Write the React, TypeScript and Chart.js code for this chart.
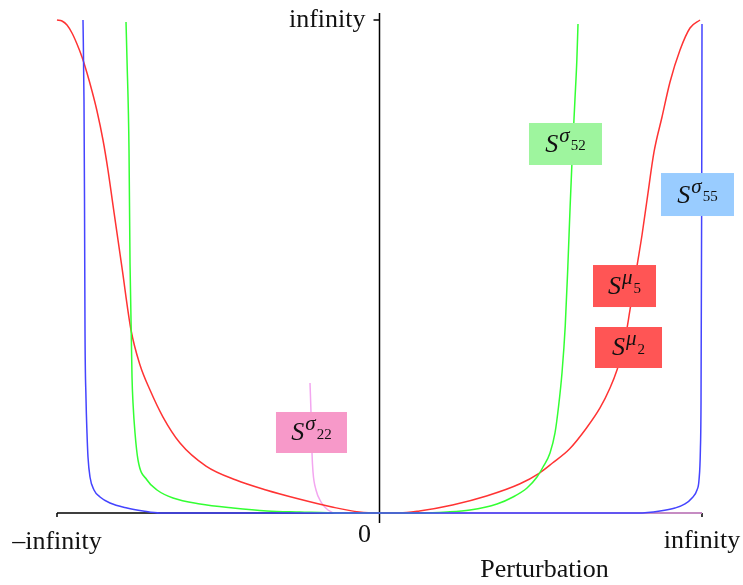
import React, { useEffect, useRef } from "react";
import { Chart, registerables } from "chart.js";

Chart.register(...registerables);

// Axis texts
const xTickLabels = ["–infinity", "0", "infinity"];
const yTickLabel = "infinity";
const xAxisTitle = "Perturbation";

// Perturbation (scaled −100 … 100, ±100 = ±infinity) and sensitivity (0 … 100, 100 = infinity)
const sigma55X = [-91.94, -91.63, -91.47, -91.32, -91.01, -90.7, -90.39, -89.77, -88.53, -86.67, -83.57, -78.29, -73.33, -68.06, 0, 80.16, 86.98, 91.63, 94.73, 96.9, 98.45, 99.07, 99.5, 99.7, 99.9, 100];
const sigma55Y = [100, 83.77, 63.49, 37.12, 23.33, 16.23, 11.36, 7.3, 4.67, 3.25, 2.03, 1.01, 0.41, 0, 0, 0, 0.41, 1.01, 1.83, 3.04, 4.67, 6.69, 12.78, 22.92, 63.5, 99.2];

const sigma52X = [-78.6, -78.29, -77.67, -77.36, -76.74, -76.43, -75.81, -74.88, -72.09, -68.99, -64.03, -55.66, -45.43, -34.88, -24.65, -12.25, 0, 12.56, 20.93, 28.06, 36.43, 41.4, 45.74, 48.84, 50.7, 52.87, 54.42, 55.5, 56.6, 57.6, 58.4, 59.1, 59.8, 60.6, 61.2, 61.55];
const sigma52Y = [99.59, 91.89, 73.63, 50.71, 27.59, 22.31, 16.23, 10.75, 6.69, 4.67, 3.04, 1.83, 1.01, 0.41, 0.2, 0, 0, 0, 0.2, 0.61, 1.83, 3.25, 5.07, 7.3, 9.33, 12.17, 16.23, 21.5, 28.5, 38.0, 50.0, 62.0, 73.0, 83.8, 92.0, 99.19];

const muX = [-100, -98.45, -96.9, -95.35, -93.8, -92.25, -90.7, -89.15, -87.6, -85.74, -84.19, -82.64, -81.09, -79.84, -77.05, -74.26, -71.16, -67.13, -61.86, -53.8, -44.5, -35.19, -24.96, -14.73, -6.36, 0, 6.2, 12.4, 22.64, 33.18, 43.41, 49.61, 53.64, 58.91, 64.19, 68.37, 71.47, 73.64, 75.81, 77.67, 79.84, 81.4, 82.95, 85.12, 87.6, 90.08, 93.18, 96.28, 99.38];
const muY = [100, 99.8, 98.99, 97.36, 95.13, 92.49, 89.25, 85.6, 81.54, 75.66, 69.57, 62.47, 55.38, 49.7, 37.12, 30.02, 24.95, 19.47, 14.2, 9.53, 6.69, 4.67, 2.84, 1.22, 0.2, 0, 0, 0.41, 1.62, 3.45, 5.88, 8.11, 10.14, 12.98, 17.24, 21.3, 25.35, 29.01, 34.08, 41.18, 50.1, 56.39, 63.49, 73.23, 80.32, 87.42, 93.91, 98.38, 100];

const sigma22X = [-21.55, -21.24, -20.93, -20.62, -19.69, -18.14, -15.97, -13.49, 100];
const sigma22Y = [26.37, 20.49, 12.17, 8.32, 4.67, 2.23, 0.61, 0, 0];

// Curve labels: symbol, superscript, subscript, anchor (data units), box colour
const labelSup = ["σ", "σ", "μ", "μ", "σ"];
const labelSub = ["52", "55", "5", "2", "22"];
const labelX = [57.67, 98.6, 75.97, 77.21, -21.09];
const labelY = [74.85, 64.6, 46.04, 33.57, 16.33];
const labelColors = ["#9ef59e", "#99ccff", "#ff5555", "#ff5555", "#f799c9"];
const labelW = [73, 73, 63, 67, 71];
const labelH = [42, 43, 42, 41, 41];

const FONT = '"Liberation Serif", "Times New Roman", serif';

const toPts = (xs: number[], ys: number[]) => xs.map((x, i) => ({ x, y: ys[i] }));

const decorPlugin = {
  id: "decor",
  beforeDatasetsDraw(chart: any) {
    const { ctx, scales } = chart;
    const xs = scales.x, ys = scales.y;
    const x0 = xs.getPixelForValue(0);
    const xl = xs.getPixelForValue(-100);
    const xr = xs.getPixelForValue(100);
    const y0 = ys.getPixelForValue(0);
    const yt = ys.getPixelForValue(100);
    ctx.save();
    ctx.strokeStyle = "#000";
    ctx.lineWidth = 1.5;
    ctx.beginPath();
    ctx.moveTo(xl, y0);
    ctx.lineTo(xr, y0);
    ctx.moveTo(xl, y0);
    ctx.lineTo(xl, y0 + 4);
    ctx.moveTo(xr, y0);
    ctx.lineTo(xr, y0 + 4);
    ctx.moveTo(x0, yt - 7);
    ctx.lineTo(x0, y0 + 10);
    ctx.moveTo(x0 - 6, yt);
    ctx.lineTo(x0, yt);
    ctx.stroke();

    ctx.fillStyle = "#111";
    ctx.font = `26px ${FONT}`;
    ctx.textBaseline = "alphabetic";
    ctx.textAlign = "right";
    ctx.fillText(yTickLabel, x0 - 14, yt + 7);
    ctx.textAlign = "center";
    ctx.fillText(xTickLabels[0], xl, y0 + 36);
    ctx.fillText(xTickLabels[1], x0 - 15, y0 + 29);
    ctx.fillText(xTickLabels[2], xr, y0 + 35);
    ctx.fillText(xAxisTitle, x0 + 165, y0 + 64);
    ctx.restore();
  },
  afterDatasetsDraw(chart: any) {
    const { ctx, scales } = chart;
    ctx.save();
    for (let i = 0; i < labelSup.length; i++) {
      const cx = scales.x.getPixelForValue(labelX[i]);
      const cy = scales.y.getPixelForValue(labelY[i]);
      const w = labelW[i], h = labelH[i];
      ctx.fillStyle = labelColors[i];
      ctx.fillRect(cx - w / 2, cy - h / 2, w, h);
      ctx.fillStyle = "#111";
      ctx.textAlign = "left";
      ctx.textBaseline = "alphabetic";
      const fS = `italic 26px ${FONT}`;
      const fSup = `italic 21px ${FONT}`;
      const fSub = `15px ${FONT}`;
      ctx.font = fS;
      const wS = ctx.measureText("S").width;
      ctx.font = fSup;
      const wSup = ctx.measureText(labelSup[i]).width;
      ctx.font = fSub;
      const wSub = ctx.measureText(labelSub[i]).width;
      const total = wS + 1 + wSup + 1 + wSub;
      let x = cx - total / 2;
      const base = cy + 8;
      ctx.font = fS;
      ctx.fillText("S", x, base);
      x += wS + 1;
      ctx.font = fSup;
      ctx.fillText(labelSup[i], x, base - 10);
      x += wSup + 1;
      ctx.font = fSub;
      ctx.fillText(labelSub[i], x, base - 1.5);
    }
    ctx.restore();
  },
};

export default function App() {
  const ref = useRef<HTMLCanvasElement | null>(null);
  useEffect(() => {
    if (!ref.current) return;
    const mk = (label: string, xs: number[], ys: number[], color: string) => ({
      label,
      data: toPts(xs, ys),
      showLine: true,
      borderColor: color,
      backgroundColor: color,
      borderWidth: 1.5,
      pointRadius: 0,
      cubicInterpolationMode: "monotone" as const,
      clip: false as any,
    });
    const chart = new Chart(ref.current, {
      type: "scatter",
      data: {
        datasets: [
          mk("Sσ55", sigma55X, sigma55Y, "#4444ff"),
          mk("Sσ52", sigma52X, sigma52Y, "#33ff33"),
          mk("Sμ", muX, muY, "#ff3333"),
          mk("Sσ22", sigma22X, sigma22Y, "#f3a6f0"),
        ],
      },
      options: {
        animation: false,
        responsive: false,
        layout: { padding: { left: 57, right: 41, top: 20, bottom: 72 } },
        scales: {
          x: { type: "linear", min: -100, max: 100, display: false },
          y: { type: "linear", min: 0, max: 100, display: false },
        },
        plugins: { legend: { display: false }, tooltip: { enabled: false } },
      },
      plugins: [decorPlugin],
    });
    return () => chart.destroy();
  }, []);
  return (
    <div style={{ position: "absolute", left: 0, top: 0, width: 743, height: 585, background: "#fff" }}>
      <canvas ref={ref} width={743} height={585} />
    </div>
  );
}
